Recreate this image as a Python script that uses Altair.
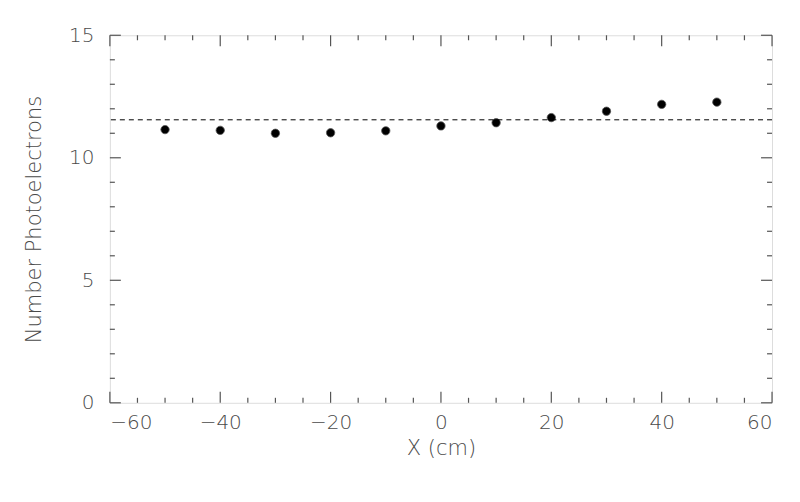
import altair as alt
import pandas as pd

# data
x_cm = [-50, -40, -30, -20, -10, 0, 10, 20, 30, 40, 50]
n_pe = [11.15, 11.12, 11.0, 11.02, 11.1, 11.3, 11.43, 11.64, 11.9, 12.18, 12.27]
ref_level = [11.55]

x_major = [-60, -40, -20, 0, 20, 40, 60]
x_minor = [v for v in range(-60, 61, 5) if v % 20 != 0]
y_major = [0, 5, 10, 15]
y_minor = [v for v in range(0, 16) if v % 5 != 0]

W, H = 663, 368
FONT = "DejaVu Sans"
GREY = "#555555"
TXT = "#4a4a4a"

xs = alt.Scale(domain=[-60, 60], nice=False, zero=False)
ys = alt.Scale(domain=[0, 15], nice=False, zero=False)

XT = "X (cm)"
YT = "Number Photoelectrons"
xaxis = alt.Axis(values=x_major, domain=False, ticks=False, grid=False,
                 labelFont=FONT, labelFontSize=20, labelFontWeight=200, labelColor=TXT, labelPadding=10,
                 titleFont=FONT, titleFontSize=21, titleColor=TXT, titleFontWeight=200,
                 titlePadding=5)
yaxis = alt.Axis(values=y_major, domain=False, ticks=False, grid=False,
                 labelFont=FONT, labelFontSize=20, labelFontWeight=200, labelColor=TXT, labelPadding=16,
                 titleFont=FONT, titleFontSize=21, titleColor=TXT, titleFontWeight=200,
                 titlePadding=24)

pts = pd.DataFrame({"x": x_cm, "y": n_pe})

points = alt.Chart(pts).mark_circle(size=70, color="black", opacity=1, stroke="#555", strokeWidth=0.8).encode(
    x=alt.X("x:Q", scale=xs, title=XT, axis=xaxis),
    y=alt.Y("y:Q", scale=ys, title=YT, axis=yaxis),
)

ref = alt.Chart(pd.DataFrame({"r": ref_level})).mark_rule(
    color="black", strokeWidth=1, strokeDash=[5, 4]).encode(
    y=alt.Y("r:Q", scale=ys, title=YT, axis=yaxis))


def xticks(vals, length):
    d = pd.DataFrame({"v": vals})
    bot = alt.Chart(d).mark_rule(color=GREY, strokeWidth=1.2).encode(
        x=alt.X("v:Q", scale=xs, title=XT, axis=xaxis), y=alt.value(H), y2=alt.value(H - length))
    top = alt.Chart(d).mark_rule(color=GREY, strokeWidth=1.2).encode(
        x=alt.X("v:Q", scale=xs, title=XT, axis=xaxis), y=alt.value(0), y2=alt.value(length))
    return [bot, top]


def yticks(vals, length):
    d = pd.DataFrame({"v": vals})
    left = alt.Chart(d).mark_rule(color=GREY, strokeWidth=1.2).encode(
        y=alt.Y("v:Q", scale=ys, title=YT, axis=yaxis), x=alt.value(0), x2=alt.value(length))
    right = alt.Chart(d).mark_rule(color=GREY, strokeWidth=1.2).encode(
        y=alt.Y("v:Q", scale=ys, title=YT, axis=yaxis), x=alt.value(W), x2=alt.value(W - length))
    return [left, right]


layers = xticks(x_major, 11) + xticks(x_minor, 5) + yticks(y_major, 11) + yticks(y_minor, 5)

chart = alt.layer(points, ref, *layers).properties(
    width=W, height=H,
    autosize=alt.AutoSizeParams(type="none"),
    padding={"left": 102, "top": 27, "right": 20, "bottom": 80},
).configure_view(stroke=GREY, strokeWidth=1.4).configure(background="white")

chart.save("out.html", embed_options={"renderer": "svg", "actions": False})
